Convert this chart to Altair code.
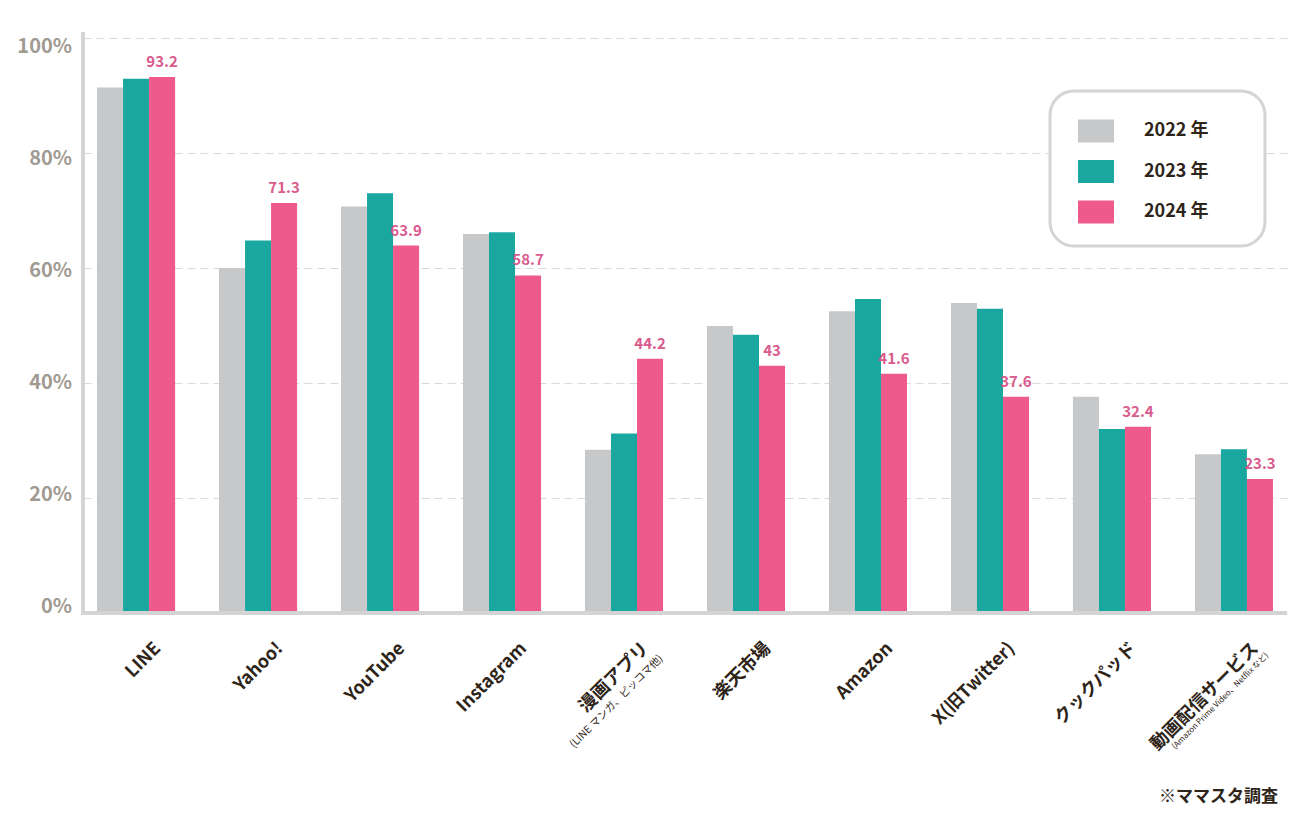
import altair as alt
import pandas as pd

categories = ["LINE", "Yahoo!", "YouTube", "Instagram", "漫画アプリ", "楽天市場",
              "Amazon", "X(旧Twitter)", "クックパッド", "動画配信サービス"]
subtitles = ["", "", "", "", "(LINE マンガ、ピッコマ他)", "", "", "", "",
             "(Amazon Prime Video、Netflix など)"]
years = ["2022 年", "2023 年", "2024 年"]
v2022 = [91.4, 60.0, 70.7, 65.9, 28.4, 49.9, 52.5, 53.9, 37.6, 27.6]
v2023 = [92.9, 64.8, 73.0, 66.2, 31.2, 48.4, 54.6, 52.9, 32.0, 28.5]
v2024 = [93.2, 71.3, 63.9, 58.7, 44.2, 43.0, 41.6, 37.6, 32.4, 23.3]
labels2024 = ["93.2", "71.3", "63.9", "58.7", "44.2", "43", "41.6", "37.6", "32.4", "23.3"]
y_ticks = [0, 20, 40, 60, 80, 100]
y_tick_labels = ["0%", "20%", "40%", "60%", "80%", "100%"]
source_note = "※ママスタ調査"

colors = ["#c7c8ca", "#1aa7a0", "#ee5a8b"]
FONT = "Noto Sans CJK JP"
DARK = "#2e2418"
AXIS_GRAY = "#d4d4d4"

rows = []
for i, c in enumerate(categories):
    for y, vals in zip(years, [v2022, v2023, v2024]):
        rows.append({"category": c, "year": y, "value": vals[i],
                     "label": labels2024[i] if y == years[2] else ""})
df = pd.DataFrame(rows)
cat_df = pd.DataFrame({"category": categories, "subtitle": subtitles})
tick_df = pd.DataFrame({"tick": y_ticks, "tlabel": y_tick_labels})
note_df = pd.DataFrame({"note": [source_note]})

xscale = alt.Scale(paddingInner=0.36, paddingOuter=0.115)
X = alt.X("category:N", sort=categories, scale=xscale,
          axis=alt.Axis(labels=False, ticks=False, title=None, domain=False))
Xn = alt.X("category:N", sort=categories, axis=None)
XO = alt.XOffset("year:N", sort=years)

bars = alt.Chart(df).mark_bar().encode(
    x=X,
    xOffset=XO,
    y=alt.Y("value:Q", scale=alt.Scale(domain=[0, 100], nice=False),
            axis=alt.Axis(values=y_ticks, labels=False, ticks=False, title=None,
                          domain=False, grid=True,
                          gridDash=[8, 5], gridColor="#d9d9d9", gridWidth=1)),
    color=alt.Color("year:N", sort=years, scale=alt.Scale(domain=years, range=colors),
                    legend=alt.Legend(title="00", titleOrient="right", titleColor="#ffffff",
                                      titleFontSize=18, titlePadding=12,
                                      orient="none", legendX=967, legendY=53,
                                      fillColor="white", strokeColor="#d4d4d4",
                                      cornerRadius=24, padding=22,
                                      symbolType="M-1,-0.64L1,-0.64L1,0.64L-1,0.64Z",
                                      symbolSize=1296, symbolOffset=6,
                                      symbolStrokeWidth=0, labelOffset=30,
                                      labelFont=FONT, labelFontSize=18,
                                      labelFontWeight="bold", labelColor=DARK,
                                      rowPadding=10.5)),
)

values = alt.Chart(df).transform_filter(alt.datum.year == years[2]).mark_text(
    baseline="bottom", dy=-7, fontSize=15, fontWeight="bold", color="#d95b8d", font=FONT
).encode(
    x=X, xOffset=XO,
    y=alt.Y("value:Q", scale=alt.Scale(domain=[0, 100], nice=False), axis=None),
    text="label:N",
)

ylabels = alt.Chart(tick_df).mark_text(
    align="right", baseline="middle", fontSize=20, fontWeight="bold",
    color="#9f9a92", font=FONT
).encode(
    x=alt.value(-11),
    y=alt.Y("tick:Q", scale=alt.Scale(domain=[-1.07, 101.6], nice=False, zero=False), axis=None),
    text="tlabel:N",
)

y_domain = alt.Chart().mark_rule(color=AXIS_GRAY, strokeWidth=4).encode(
    x=alt.value(0), y=alt.value(-6), y2=alt.value(577))
x_domain = alt.Chart().mark_rule(color=AXIS_GRAY, strokeWidth=4).encode(
    x=alt.value(-2), x2=alt.value(1204), y=alt.value(575))

xlabels = alt.Chart(cat_df).mark_text(
    angle=315, align="right", baseline="middle", fontSize=18, fontWeight="bold",
    color=DARK, font=FONT, dx=15.6, dy=15.6
).encode(x=Xn, y=alt.value(608), text="category:N")

sub1 = alt.Chart(cat_df).transform_filter(alt.datum.category == categories[4]).mark_text(
    angle=315, align="right", baseline="middle", fontSize=10.5, fontWeight="normal",
    color=DARK, font=FONT, dx=18.6, dy=34
).encode(x=Xn, y=alt.value(608), text="subtitle:N")

sub2 = alt.Chart(cat_df).transform_filter(alt.datum.category == categories[9]).mark_text(
    angle=315, align="right", baseline="middle", fontSize=8, fontWeight="normal",
    color=DARK, font=FONT, dx=17.6, dy=29.6
).encode(x=Xn, y=alt.value(608), text="subtitle:N")

note = alt.Chart(note_df).mark_text(
    align="right", baseline="middle", fontSize=17, fontWeight="bold", color=DARK, font=FONT
).encode(x=alt.value(1195), y=alt.value(759), text="note:N")

chart = alt.layer(bars, values, ylabels, y_domain, x_domain, xlabels, sub1, sub2, note).resolve_scale(
    y="independent"
).properties(
    width=1204, height=575,
    padding={"left": 75, "top": 30, "right": 16, "bottom": 200},
    autosize=alt.AutoSizeParams(type="none"),
).configure(font=FONT).configure_view(strokeWidth=0, stroke="transparent").configure_legend(strokeWidth=3)

chart.save("out.html", embed_options={"renderer": "svg", "actions": False})
